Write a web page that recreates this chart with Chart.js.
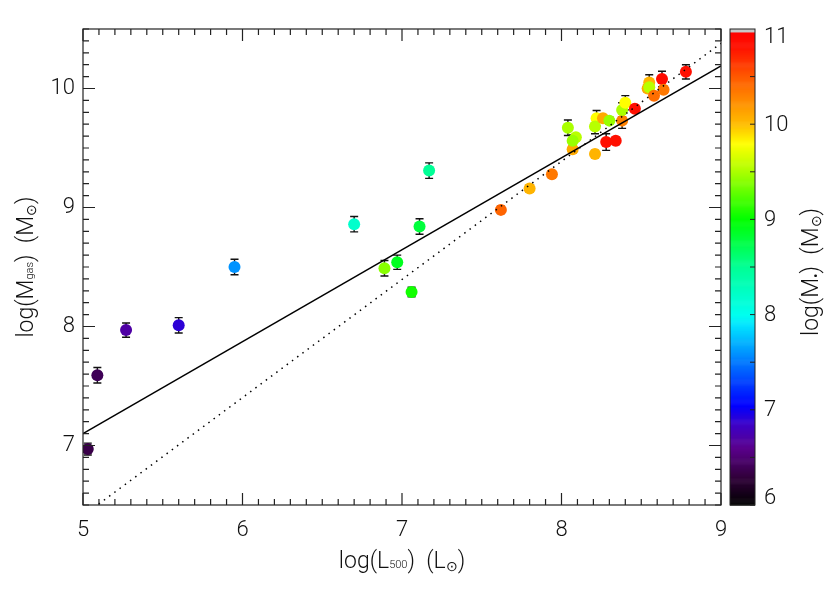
<!DOCTYPE html>
<html>
<head>
<meta charset="utf-8">
<script src="https://cdn.jsdelivr.net/npm/chart.js@4.4.0/dist/chart.umd.min.js"></script>
<style>
  body { margin: 0; background: #fff; }
</style>
</head>
<body>
<canvas id="gasChart" width="830" height="593"></canvas>
<script>
const logL = [5.03, 5.09, 5.27, 5.60, 5.95, 6.70, 6.89, 6.97, 7.06, 7.11, 7.17,
  7.62, 7.80, 7.94, 8.04, 8.07, 8.09, 8.07, 8.21, 8.22, 8.21, 8.26, 8.30, 8.28, 8.34,
  8.38, 8.38, 8.40, 8.46, 8.55, 8.54, 8.55, 8.58, 8.63, 8.64, 8.78];
const logMgas = [6.97, 7.59, 7.97, 8.01, 8.50, 8.86, 8.49, 8.54, 8.29, 8.84, 9.31,
  8.98, 9.16, 9.28, 9.67, 9.49, 9.59, 9.56, 9.45, 9.75, 9.68, 9.75, 9.73, 9.55, 9.56,
  9.73, 9.82, 9.88, 9.83, 10.05, 10.00, 10.01, 9.94, 10.08, 9.99, 10.14];
const errMgas = [0.05, 0.065, 0.06, 0.065, 0.065, 0.065, 0.065, 0.06, 0.04, 0.065, 0.065,
  0.03, 0.03, 0.03, 0.065, 0.03, 0.03, 0.05, 0.03, 0.065, 0.06, 0.03, 0.03, 0.07, 0.03,
  0.065, 0.06, 0.06, 0.03, 0.065, 0.03, 0.03, 0.03, 0.065, 0.03, 0.06];
const logMstar = [6.35, 6.4, 6.7, 6.9, 7.6, 8.2, 9.4, 8.9, 9.05, 8.8, 8.5,
  10.45, 10.05, 10.35, 9.5, 10.1, 9.55, 9.45, 10.05, 9.8, 9.55, 10.1, 9.45, 10.85, 10.85,
  10.3, 9.5, 9.8, 10.85, 10.05, 10.1, 9.55, 10.4, 10.9, 10.35, 10.85];

// fit lines
const solidX = [5, 9];
const solidY = [7.10, 10.19];
const dotX = [5, 9];
const dotY = [6.41, 10.38];

const xTicks = [5, 6, 7, 8, 9];
const yTicks = [7, 8, 9, 10];
const cbTicks = [6, 7, 8, 9, 10, 11];

// rainbow colour table, value -> rgb
const cmapVals = [6.0, 6.3, 6.6, 6.85, 7.05, 7.5, 7.9, 8.0, 8.5, 9.0, 9.5, 9.8, 10.0, 10.5, 10.8, 11.0];
const cmapRGB = [[0,0,0], [50,0,60], [90,0,140], [60,0,200], [0,0,255], [0,120,255], [0,230,255],
  [0,255,240], [0,255,150], [0,255,0], [170,255,0], [255,255,0], [255,190,0], [255,90,0], [255,20,0], [255,0,0]];

function cmap(v) {
  if (v <= cmapVals[0]) return 'rgb(0,0,0)';
  for (let i = 1; i < cmapVals.length; i++) {
    if (v <= cmapVals[i]) {
      const t = (v - cmapVals[i-1]) / (cmapVals[i] - cmapVals[i-1]);
      const a = cmapRGB[i-1], b = cmapRGB[i];
      return 'rgb(' + a.map((c, k) => Math.round(c + (b[k] - c) * t)).join(',') + ')';
    }
  }
  return 'rgb(255,0,0)';
}

const FONT = '"Roboto", "Liberation Sans", sans-serif';
const FS = 22;
const TS = 23;

// draw a string made of pieces with their own size and vertical shift
function drawRich(ctx, parts, x, y) {
  let total = 0;
  parts.forEach(p => {
    ctx.font = '300 ' + Math.round(TS * p[1]) + 'px ' + FONT;
    total += ctx.measureText(p[0]).width;
  });
  let cx = x - total / 2;
  parts.forEach(p => {
    ctx.font = '300 ' + Math.round(TS * p[1]) + 'px ' + FONT;
    ctx.fillText(p[0], cx, y + p[2]);
    cx += ctx.measureText(p[0]).width;
  });
}

const framePlugin = {
  id: 'frame',
  beforeDatasetsDraw(chart) {
    // error bars under the points
    const ctx = chart.ctx, xs = chart.scales.x, ys = chart.scales.y;
    ctx.save();
    ctx.strokeStyle = '#111';
    ctx.lineWidth = 1.4;
    for (let i = 0; i < logL.length; i++) {
      const px = xs.getPixelForValue(logL[i]);
      const top = ys.getPixelForValue(logMgas[i] + errMgas[i]);
      const bot = ys.getPixelForValue(logMgas[i] - errMgas[i]);
      ctx.beginPath();
      ctx.moveTo(px, top); ctx.lineTo(px, bot);
      ctx.moveTo(px - 4, top); ctx.lineTo(px + 4, top);
      ctx.moveTo(px - 4, bot); ctx.lineTo(px + 4, bot);
      ctx.stroke();
    }
    ctx.restore();
  },
  afterDraw(chart) {
    const ctx = chart.ctx, a = chart.chartArea;
    const xs = chart.scales.x, ys = chart.scales.y, cb = chart.scales.cb;
    ctx.save();
    ctx.strokeStyle = '#222';
    ctx.lineWidth = 1.2;
    ctx.strokeRect(a.left, a.top, a.right - a.left, a.bottom - a.top);

    // inward ticks on all four sides
    ctx.beginPath();
    for (let k = 50; k <= 90; k++) {
      const px = xs.getPixelForValue(k / 10);
      const len = k % 10 === 0 ? 12 : 6;
      ctx.moveTo(px, a.bottom); ctx.lineTo(px, a.bottom - len);
      ctx.moveTo(px, a.top); ctx.lineTo(px, a.top + len);
    }
    for (let k = 65; k <= 105; k++) {
      const py = ys.getPixelForValue(k / 10);
      const len = k % 10 === 0 ? 12 : 6;
      ctx.moveTo(a.left, py); ctx.lineTo(a.left + len, py);
      ctx.moveTo(a.right, py); ctx.lineTo(a.right - len, py);
    }
    ctx.stroke();

    // tick labels
    ctx.fillStyle = '#111';
    ctx.font = '300 ' + FS + 'px ' + FONT;
    ctx.textAlign = 'center';
    ctx.textBaseline = 'alphabetic';
    xTicks.forEach(v => ctx.fillText(String(v), xs.getPixelForValue(v), a.bottom + 31));
    ctx.textAlign = 'right';
    ctx.textBaseline = 'middle';
    yTicks.forEach(v => ctx.fillText(String(v), a.left - 8, ys.getPixelForValue(v)));

    // colour bar
    const bx = a.right + 9, bw = 25;
    for (let k = 0; k < 500; k++) {
      const v0 = 6 + k * 0.01;
      const y0 = cb.getPixelForValue(v0), y1 = cb.getPixelForValue(v0 + 0.01);
      ctx.fillStyle = k >= 497 ? '#c8c8c8' : cmap(v0 + 0.005);
      ctx.fillRect(bx, y1, bw, y0 - y1 + 0.6);
    }
    ctx.strokeStyle = '#222';
    ctx.lineWidth = 1;
    ctx.strokeRect(bx, cb.getPixelForValue(11), bw, cb.getPixelForValue(6) - cb.getPixelForValue(11));
    ctx.beginPath();
    for (let k = 12; k < 22; k++) {
      const py = cb.getPixelForValue(k / 2);
      ctx.moveTo(bx + bw, py); ctx.lineTo(bx + bw - 5, py);
    }
    ctx.stroke();
    ctx.fillStyle = '#111';
    ctx.font = '300 ' + FS + 'px ' + FONT;
    ctx.textAlign = 'left';
    cbTicks.forEach(v => {
      // end labels are kept inside the bar
      const nudge = v === 11 ? 8 : (v === 6 ? -7 : 1);
      ctx.fillText(String(v), bx + bw + 9, cb.getPixelForValue(v) + nudge);
    });

    // axis titles
    ctx.textAlign = 'left';
    ctx.textBaseline = 'alphabetic';
    drawRich(ctx, [['log(L', 1, 0], ['500', 0.48, 0], [')  (L', 1, 0], ['\u2299', 0.6, 3], [')', 1, 0]],
      (a.left + a.right) / 2, a.bottom + 63);

    ctx.save();
    ctx.translate(33, (a.top + a.bottom) / 2);
    ctx.rotate(-Math.PI / 2);
    drawRich(ctx, [['log(M', 1, 0], ['gas', 0.48, 0], [')  (M', 1, 0], ['\u2299', 0.6, 3], [')', 1, 0]], 0, 0);
    ctx.restore();

    ctx.save();
    ctx.translate(818, (a.top + a.bottom) / 2 + 5);
    ctx.rotate(-Math.PI / 2);
    drawRich(ctx, [['log(M', 1, 0], ['\u2022', 0.6, 3], [')  (M', 1, 0], ['\u2299', 0.6, 3], [')', 1, 0]], 0, 0);
    ctx.restore();
    ctx.restore();
  }
};

const points = logL.map((x, i) => ({ x: x, y: logMgas[i] }));

new Chart(document.getElementById('gasChart'), {
  type: 'scatter',
  data: {
    datasets: [
      {
        type: 'line',
        data: solidX.map((x, i) => ({ x: x, y: solidY[i] })),
        borderColor: '#000',
        borderWidth: 1.3,
        pointRadius: 0,
        order: 0
      },
      {
        type: 'line',
        data: dotX.map((x, i) => ({ x: x, y: dotY[i] })),
        borderColor: '#000',
        borderWidth: 1.5,
        borderDash: [1.5, 5],
        pointRadius: 0,
        order: 0
      },
      {
        data: points,
        pointRadius: 6,
        pointBorderWidth: 0,
        pointBackgroundColor: logMstar.map(cmap),
        order: 1
      }
    ]
  },
  options: {
    responsive: false,
    animation: false,
    devicePixelRatio: 1,
    layout: { padding: { left: 83, right: 109, top: 29, bottom: 88 } },
    plugins: { legend: { display: false }, tooltip: { enabled: false } },
    scales: {
      x: { type: 'linear', min: 5, max: 9, display: false },
      y: { type: 'linear', min: 6.5, max: 10.5, display: false },
      cb: { type: 'linear', axis: 'y', min: 6, max: 11, display: false }
    }
  },
  plugins: [framePlugin]
});
</script>
</body>
</html>
